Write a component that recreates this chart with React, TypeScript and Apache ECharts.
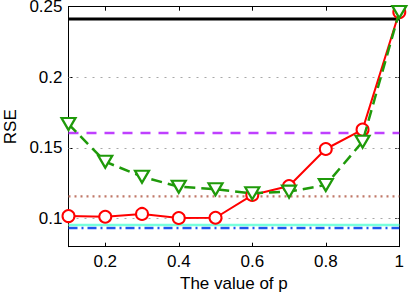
import React, { useEffect, useRef } from "react";
import * as echarts from "echarts";

const pValues = [0.1, 0.2, 0.3, 0.4, 0.5, 0.6, 0.7, 0.8, 0.9, 1.0];
const redSeries = [0.1017, 0.1012, 0.1032, 0.1003, 0.1005, 0.1166, 0.123, 0.1492, 0.1629, 0.2462];
const greenSeries = [0.1669, 0.1402, 0.1296, 0.1225, 0.1207, 0.1178, 0.119, 0.1237, 0.1544, 0.2462];
const baselineValues = [0.2413, 0.1605, 0.1157, 0.0954, 0.0932];
const yTicks = [0.1, 0.15, 0.2, 0.25];
const xTicks = [0.2, 0.4, 0.6, 0.8, 1];
const gridValues = [0.1, 0.15, 0.2];
const yMin = 0.08;
const yMax = 0.25;
const xMin = 0.1;
const xMax = 1;

const FONT = "'Liberation Sans', Arial, Helvetica, sans-serif";

export default function App() {
  const ref = useRef<HTMLDivElement>(null);
  useEffect(() => {
    if (!ref.current) return;
    const chart = echarts.init(ref.current, null, { renderer: "svg" });
    const baseStyles = [
      { color: "#000000", width: 3, type: "solid" as any },
      { color: "#bf40ff", width: 2.5, type: [10, 8] },
      { color: "#c07868", width: 2.2, type: [2, 4] },
      { color: "#77ffdd", width: 2.5, type: "solid" },
      { color: "#1f55f0", width: 2.5, type: [9, 4, 2, 4] },
    ];
    const baselineSeries = baselineValues.map((v, i) => ({
      type: "line",
      data: [
        [xMin, v],
        [xMax, v],
      ],
      symbol: "none",
      lineStyle: baseStyles[i],
      silent: true,
      z: 2 + (baselineValues.length - i) * 0.01,
      markLine:
        i === 0
          ? {
              silent: true,
              symbol: "none",
              label: { show: false },
              lineStyle: { color: "#a8a8a8", width: 1, type: [2, 6] },
              data: gridValues.map((g) => ({ yAxis: g })),
              z: 1,
            }
          : undefined,
    }));
    const tickCommon = {
      show: true,
      inside: true,
      length: 4,
      lineStyle: { color: "#000", width: 1 },
    };
    const axisLineCommon = { show: true, onZero: false, lineStyle: { color: "#000", width: 1 } };
    chart.setOption({
      animation: false,
      backgroundColor: "#ffffff",
      grid: {
        left: 68.5,
        right: 9.7,
        top: 6.7,
        bottom: 47.3,
        containLabel: false,
        outerBoundsMode: "none",
      },
      xAxis: [
        {
          type: "value",
          min: xMin,
          max: xMax,
          position: "bottom",
          name: "The value of p",
          nameLocation: "middle",
          nameGap: 24,
          nameTextStyle: { fontFamily: FONT, fontSize: 17, color: "#000" },
          axisLine: axisLineCommon,
          axisTick: { ...tickCommon, customValues: xTicks },
          axisLabel: {
            customValues: xTicks,
            fontFamily: FONT,
            fontSize: 17,
            color: "#000",
            margin: 6,
            formatter: (v: number) => String(parseFloat(v.toFixed(2))),
          },
          splitLine: { show: false },
        },
        {
          type: "value",
          min: xMin,
          max: xMax,
          position: "top",
          axisLine: axisLineCommon,
          axisTick: { ...tickCommon, customValues: xTicks },
          axisLabel: { show: false },
          splitLine: { show: false },
        },
      ],
      yAxis: [
        {
          type: "value",
          min: yMin,
          max: yMax,
          position: "left",
          name: "RSE",
          nameLocation: "middle",
          nameGap: 48,
          nameTextStyle: { fontFamily: FONT, fontSize: 17, color: "#000" },
          axisLine: axisLineCommon,
          axisTick: { ...tickCommon, customValues: yTicks },
          axisLabel: {
            customValues: yTicks,
            fontFamily: FONT,
            fontSize: 17,
            lineHeight: 13,
            color: "#000",
            margin: 6,
            formatter: (v: number) => String(parseFloat(v.toFixed(3))),
          },
          splitLine: { show: false },
        },
        {
          type: "value",
          min: yMin,
          max: yMax,
          position: "right",
          axisLine: axisLineCommon,
          axisTick: { ...tickCommon, customValues: yTicks },
          axisLabel: { show: false },
          splitLine: { show: false },
        },
      ],
      series: [
        ...baselineSeries,
        {
          type: "line",
          data: pValues.map((p, i) => [p, redSeries[i]]),
          symbol: "emptyCircle",
          symbolSize: 12,
          lineStyle: { color: "#ff0000", width: 2 },
          itemStyle: { color: "#ff0000", borderColor: "#ff0000", borderWidth: 2.2 },
          z: 4,
        },
        {
          type: "line",
          data: pValues.map((p, i) => [p, greenSeries[i]]),
          symbol: "triangle",
          symbolRotate: 180,
          symbolSize: [14, 12],
          lineStyle: { color: "#1f9a0a", width: 2.5, type: [11, 6] },
          itemStyle: { color: "#ffffff", borderColor: "#1f9a0a", borderWidth: 2.2 },
          z: 5,
        },
      ],
    });
    return () => chart.dispose();
  }, []);
  return (
    <div
      ref={ref}
      style={{ position: "fixed", left: 0, top: 0, width: 409, height: 294, background: "#fff" }}
    />
  );
}
